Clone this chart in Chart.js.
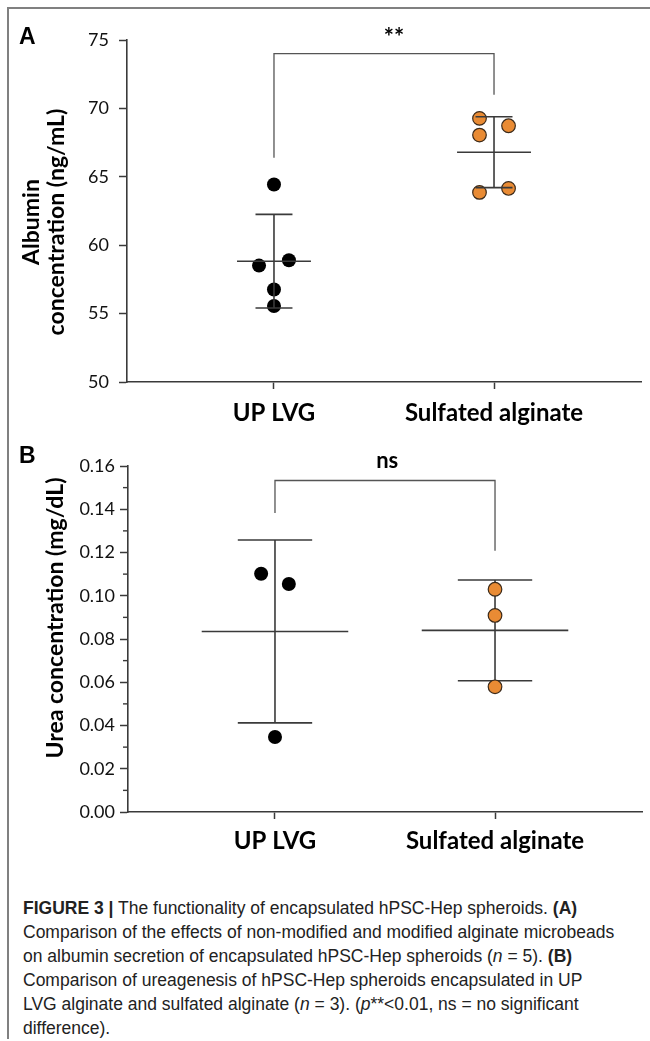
<!DOCTYPE html>
<html lang="en">
<head>
<meta charset="UTF-8">
<meta name="viewport" content="width=device-width, initial-scale=1.0">
<title>Figure 3</title>
<script src="https://cdn.jsdelivr.net/npm/chart.js"></script>
<style>
    body {
        margin: 0;
        background: #fff;
        width: 650px;
        height: 1041px;
        position: relative;
        overflow: hidden;
        font-family: Lato, sans-serif;
    }
    .frame {
        position: absolute;
        left: 7px;
        top: 7px;
        width: 643px;
        height: 1030px;
        border-top: 2px solid #808080;
        border-left: 2px solid #808080;
    }
    .panel-tag {
        position: absolute;
        font-family: "Liberation Sans", Arial, sans-serif;
        font-weight: bold;
        font-size: 23px;
        line-height: 1;
        color: #000;
    }
    .chart-box {
        position: absolute;
        left: 0;
        width: 650px;
    }
    #boxA { top: 0; height: 440px; }
    #boxB { top: 440px; height: 420px; }
    .caption {
        position: absolute;
        left: 23px;
        top: 896px;
        font-family: "Liberation Sans", Arial, sans-serif;
        font-size: 17.5px;
        line-height: 24px;
        color: #222;
        white-space: nowrap;
    }
</style>
</head>
<body>
<div class="frame"></div>
<div class="chart-box" id="boxA"><canvas id="chartA"></canvas></div>
<div class="chart-box" id="boxB"><canvas id="chartB"></canvas></div>
<div class="panel-tag" style="left:19px; top:25px;">A</div>
<div class="panel-tag" style="left:19px; top:444px;">B</div>
<div class="caption">
    <b>FIGURE 3 |</b> The functionality of encapsulated hPSC-Hep spheroids. <b>(A)</b><br>
    Comparison of the effects of non-modified and modified alginate microbeads<br>
    on albumin secretion of encapsulated hPSC-Hep spheroids (<i>n</i> = 5). <b>(B)</b><br>
    Comparison of ureagenesis of hPSC-Hep spheroids encapsulated in UP<br>
    LVG alginate and sulfated alginate (<i>n</i> = 3). (<i>p</i>**&lt;0.01, ns = no significant<br>
    difference).
</div>

<script>
    // groups on the x axis
    const categories = ['UP LVG', 'Sulfated alginate'];

    // panel A: albumin (ng/mL), one value per spheroid batch
    const albuminUP = [64.44, 58.51, 58.90, 56.76, 55.56];
    const albuminSulfated = [69.27, 68.73, 68.05, 63.86, 64.15];
    const albuminUPSlot = [0, -1, 1, 0, 0];        // swarm column of each dot
    const albuminSulfatedSlot = [-1, 1, -1, -1, 1];
    const albuminMean = [58.83, 66.80];
    const albuminSD = [3.42, 2.59];
    const albuminTicks = [50, 55, 60, 65, 70, 75];

    // panel B: urea (mg/dL)
    const ureaUP = [0.1102, 0.1054, 0.0347];
    const ureaSulfated = [0.1030, 0.0909, 0.0579];
    const ureaUPSlot = [-1, 1, 0];
    const ureaSulfatedSlot = [0, 0, 0];
    const ureaMean = [0.0835, 0.0840];
    const ureaSD = [0.0423, 0.0233];
    const ureaTicks = [0, 0.02, 0.04, 0.06, 0.08, 0.10, 0.12, 0.14, 0.16];
    const ureaMinorTicks = [0.01, 0.03, 0.05, 0.07, 0.09, 0.11, 0.13, 0.15];

    // significance brackets: [left end, top, right end] in y units
    const albuminBracket = [66.4, 74.0, 71.0];
    const ureaBracket = [0.1383, 0.1533, 0.1208];

    const ORANGE = '#E98B34';
    const LINE = '#3a3a3a';

    function dots(values, slots, cat, spread) {
        return values.map((v, i) => ({ x: cat + slots[i] * spread, y: v }));
    }

    function seg(ctx, x1, y1, x2, y2) {
        ctx.beginPath();
        ctx.moveTo(x1, y1);
        ctx.lineTo(x2, y2);
        ctx.stroke();
    }

    function drawBars(chart, o) {
        const { ctx, scales: { x, y } } = chart;
        ctx.save();
        ctx.strokeStyle = LINE;
        ctx.lineWidth = 1.6;
        o.means.forEach((m, i) => {
            const c = i + 1;
            const lo = y.getPixelForValue(m - o.sd[i]);
            const hi = y.getPixelForValue(m + o.sd[i]);
            const my = y.getPixelForValue(m);
            const cx = x.getPixelForValue(c);
            seg(ctx, cx, lo, cx, hi);
            seg(ctx, x.getPixelForValue(c - o.meanHalf), my, x.getPixelForValue(c + o.meanHalf), my);
            seg(ctx, x.getPixelForValue(c - o.capHalf), lo, x.getPixelForValue(c + o.capHalf), lo);
            seg(ctx, x.getPixelForValue(c - o.capHalf), hi, x.getPixelForValue(c + o.capHalf), hi);
        });
        ctx.restore();
    }

    const summaryPlugin = {
        id: 'summary',
        beforeDatasetsDraw(chart, args, o) {
            if (!o.barsOnTop) drawBars(chart, o);
        },
        afterDatasetsDraw(chart, args, o) {
            if (o.barsOnTop) drawBars(chart, o);
        },
        afterDraw(chart, args, o) {
            const { ctx, scales: { x, y } } = chart;
            ctx.save();
            // bracket
            const b = o.bracket;
            const x1 = x.getPixelForValue(1), x2 = x.getPixelForValue(2);
            ctx.strokeStyle = '#555';
            ctx.lineWidth = 1.3;
            ctx.beginPath();
            ctx.moveTo(x1, y.getPixelForValue(b[0]));
            ctx.lineTo(x1, y.getPixelForValue(b[1]));
            ctx.lineTo(x2, y.getPixelForValue(b[1]));
            ctx.lineTo(x2, y.getPixelForValue(b[2]));
            ctx.stroke();
            // significance mark
            ctx.fillStyle = '#000';
            ctx.font = 'bold ' + o.markSize + 'px Lato';
            ctx.textAlign = 'center';
            ctx.textBaseline = 'middle';
            ctx.fillText(o.mark, x.getPixelForValue(o.markX), y.getPixelForValue(o.markY));
            // minor ticks
            if (o.minor) {
                ctx.strokeStyle = LINE;
                ctx.lineWidth = 1.4;
                o.minor.forEach(v => {
                    const py = y.getPixelForValue(v);
                    seg(ctx, x.left - 5, py, x.left, py);
                });
            }
            // y title
            ctx.font = 'bold 23px Lato';
            ctx.translate(o.titleX[0], o.titleY);
            ctx.rotate(-Math.PI / 2);
            o.title.forEach((t, i) => {
                ctx.fillText(t, 0, o.titleX[i] - o.titleX[0]);
            });
            ctx.restore();
        }
    };

    function axisStyle() {
        return {
            grid: { drawOnChartArea: false, drawTicks: true, tickColor: LINE, tickWidth: 1.5 },
            border: { display: true, color: LINE, width: 1.6 }
        };
    }

    function makeChart(id, cfg) {
        const ax = axisStyle();
        const ay = axisStyle();
        return new Chart(document.getElementById(id), {
            type: 'scatter',
            data: {
                datasets: [{
                    data: cfg.up,
                    backgroundColor: '#000',
                    borderWidth: 0,
                    pointRadius: 7
                }, {
                    data: cfg.sulfated,
                    backgroundColor: ORANGE,
                    borderColor: '#3b2a1a',
                    borderWidth: 1.2,
                    pointRadius: 6.8
                }]
            },
            options: {
                responsive: true,
                maintainAspectRatio: false,
                animation: false,
                events: [],
                layout: { padding: cfg.padding },
                plugins: {
                    legend: { display: false },
                    tooltip: { enabled: false },
                    summary: cfg.summary
                },
                scales: {
                    x: {
                        type: 'linear',
                        min: 0.332,
                        max: 2.668,
                        afterBuildTicks: s => { s.ticks = [{ value: 1 }, { value: 2 }]; },
                        afterFit: s => { s.height = cfg.xHeight; },
                        ticks: {
                            callback: v => categories[v - 1],
                            font: { family: 'Lato', size: 24, weight: 'bold' },
                            color: '#000',
                            padding: cfg.xPad,
                            maxRotation: 0,
                            autoSkip: false
                        },
                        grid: Object.assign({}, ax.grid, { tickLength: 7 }),
                        border: ax.border
                    },
                    y: {
                        min: cfg.yMin,
                        max: cfg.yMax,
                        afterBuildTicks: s => { s.ticks = cfg.yTicks.map(v => ({ value: v })); },
                        afterFit: s => { s.width = cfg.yWidth; },
                        ticks: {
                            callback: cfg.yFormat,
                            font: { family: 'Lato', size: 18 },
                            color: '#111',
                            padding: cfg.yPad
                        },
                        grid: Object.assign({}, ay.grid, { tickLength: 8 }),
                        border: ay.border
                    }
                }
            },
            plugins: [summaryPlugin]
        });
    }

    makeChart('chartA', {
        up: dots(albuminUP, albuminUPSlot, 1, 0.068),
        sulfated: dots(albuminSulfated, albuminSulfatedSlot, 2, 0.066),
        padding: { top: 40, right: 9, left: 0, bottom: 0 },
        xHeight: 58,
        xPad: 10,
        yWidth: 127,
        yMin: 50,
        yMax: 75,
        yTicks: albuminTicks,
        yFormat: v => String(v),
        yPad: 10,
        summary: {
            means: albuminMean,
            sd: albuminSD,
            meanHalf: 0.168,
            capHalf: 0.084,
            barsOnTop: true,
            bracket: albuminBracket,
            mark: '**',
            markX: 1.545,
            markY: 75.13,
            markSize: 24,
            title: ['Albumin', 'concentration (ng/mL)'],
            titleX: [32, 57],
            titleY: 222
        }
    });

    makeChart('chartB', {
        up: dots(ureaUP, ureaUPSlot, 1, 0.063),
        sulfated: dots(ureaSulfated, ureaSulfatedSlot, 2, 0.063),
        padding: { top: 26, right: 3, left: 0, bottom: 0 },
        xHeight: 48,
        xPad: 8,
        yWidth: 128,
        yMin: 0,
        yMax: 0.16,
        yTicks: ureaTicks,
        yFormat: v => v.toFixed(2),
        yPad: 5,
        summary: {
            means: ureaMean,
            sd: ureaSD,
            meanHalf: 0.333,
            capHalf: 0.169,
            barsOnTop: false,
            bracket: ureaBracket,
            minor: ureaMinorTicks,
            mark: 'ns',
            markX: 1.51,
            markY: 0.1622,
            markSize: 22,
            title: ['Urea concentration (mg/dL)'],
            titleX: [56],
            titleY: 178
        }
    });
</script>
</body>
</html>
